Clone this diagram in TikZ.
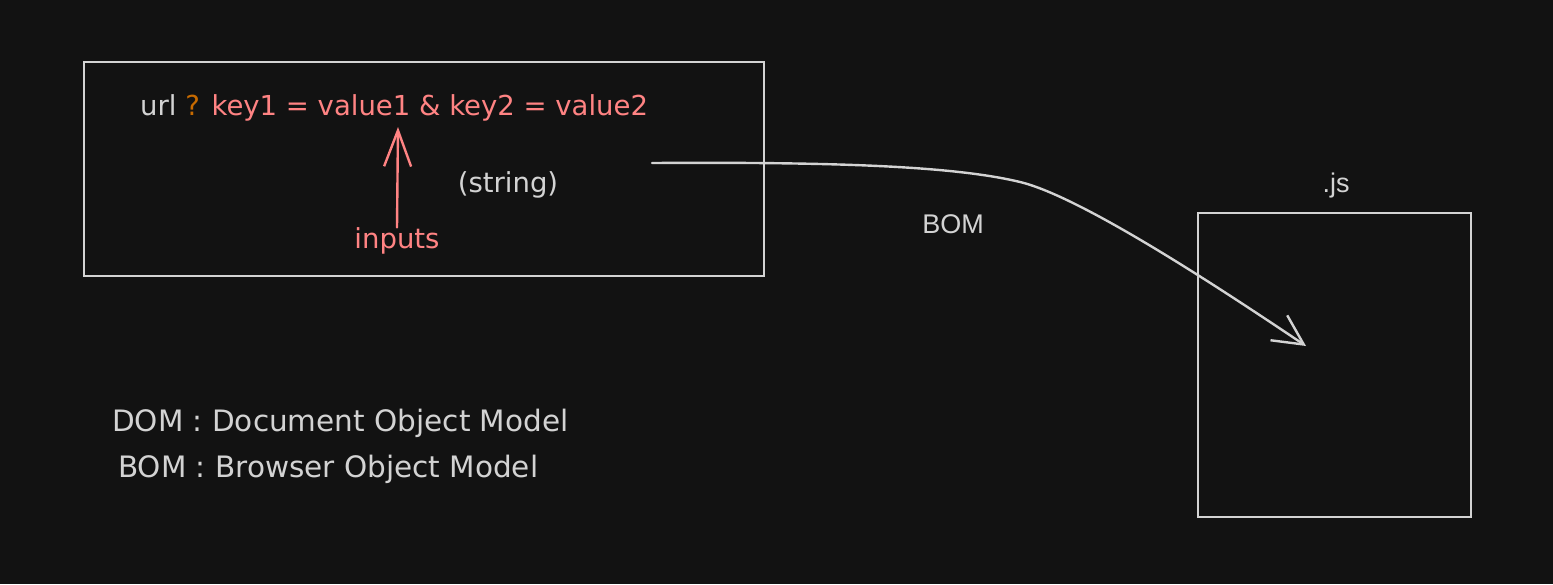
\documentclass[tikz,border=0pt]{standalone}
\usepackage{fontspec}
\setmainfont{DejaVu Sans}
\newfontfamily\plainsans{Liberation Sans}
\usetikzlibrary{arrows.meta}
\definecolor{bg}{HTML}{121212}
\definecolor{ink}{HTML}{D3D3D3}
\definecolor{redink}{HTML}{FF8383}
\definecolor{orangeink}{HTML}{C76A00}
\tikzset{
  frame/.style={draw=ink, line width=2.6pt},
  hand/.style={inner sep=0pt, anchor=west, font=\fontsize{27.5}{30}\selectfont},
  legend/.style={inner sep=0pt, anchor=west, text=ink, font=\fontsize{29.5}{32}\selectfont},
  plain/.style={inner sep=0pt, text=ink, font=\plainsans\fontsize{27}{30}\selectfont},
  link/.style={draw=ink, line width=2.4pt, line cap=round, -{Straight Barb[length=30pt,width=30pt,line width=2.4pt]}},
  redlink/.style={draw=redink, line width=2.4pt, line cap=round, -{Straight Barb[length=36pt,width=27pt,line width=2.4pt]}}
}
\begin{document}
\begin{tikzpicture}[x=1pt,y=-1pt]
\path[fill=bg, use as bounding box] (0,0) rectangle (1553,584);
% boxes
\node[frame, minimum width=680pt, minimum height=214pt, inner sep=0pt] (urlbox) at (424,169) {};
\node[frame, minimum width=273pt, minimum height=304pt, inner sep=0pt] (jsbox) at (1334.5,365) {};
% query string
\node[hand] (query) at (140,108) {\textcolor{ink}{url} \textcolor{orangeink}{?} \textcolor{redink}{key1 = value1 \& key2 = value2}};
\node[hand, anchor=center, text=ink] (string) at (508,185) {(string)};
\node[hand, anchor=center, text=redink] (inputs) at (397,241) {inputs};
\coordinate (inputtip) at (398,127);
\draw[redlink] (inputs.north) -- (inputtip);
% BOM connector
\coordinate (bomstart) at (652,163);
\coordinate (bomend) at (1306,346);
\draw[link] (bomstart) .. controls (820,162) and (950,165) .. (1020,182) .. controls (1083,197) and (1230,295) .. (bomend);
\node[plain] (bomlabel) at (953,224) {BOM};
\node[plain] (jslabel) at (1336,186) {.js};
% legend
\node[legend] (dom) at (112,423) {DOM : Document Object Model};
\node[legend] (bom) at (118,469) {BOM : Browser Object Model};
\end{tikzpicture}
\end{document}
